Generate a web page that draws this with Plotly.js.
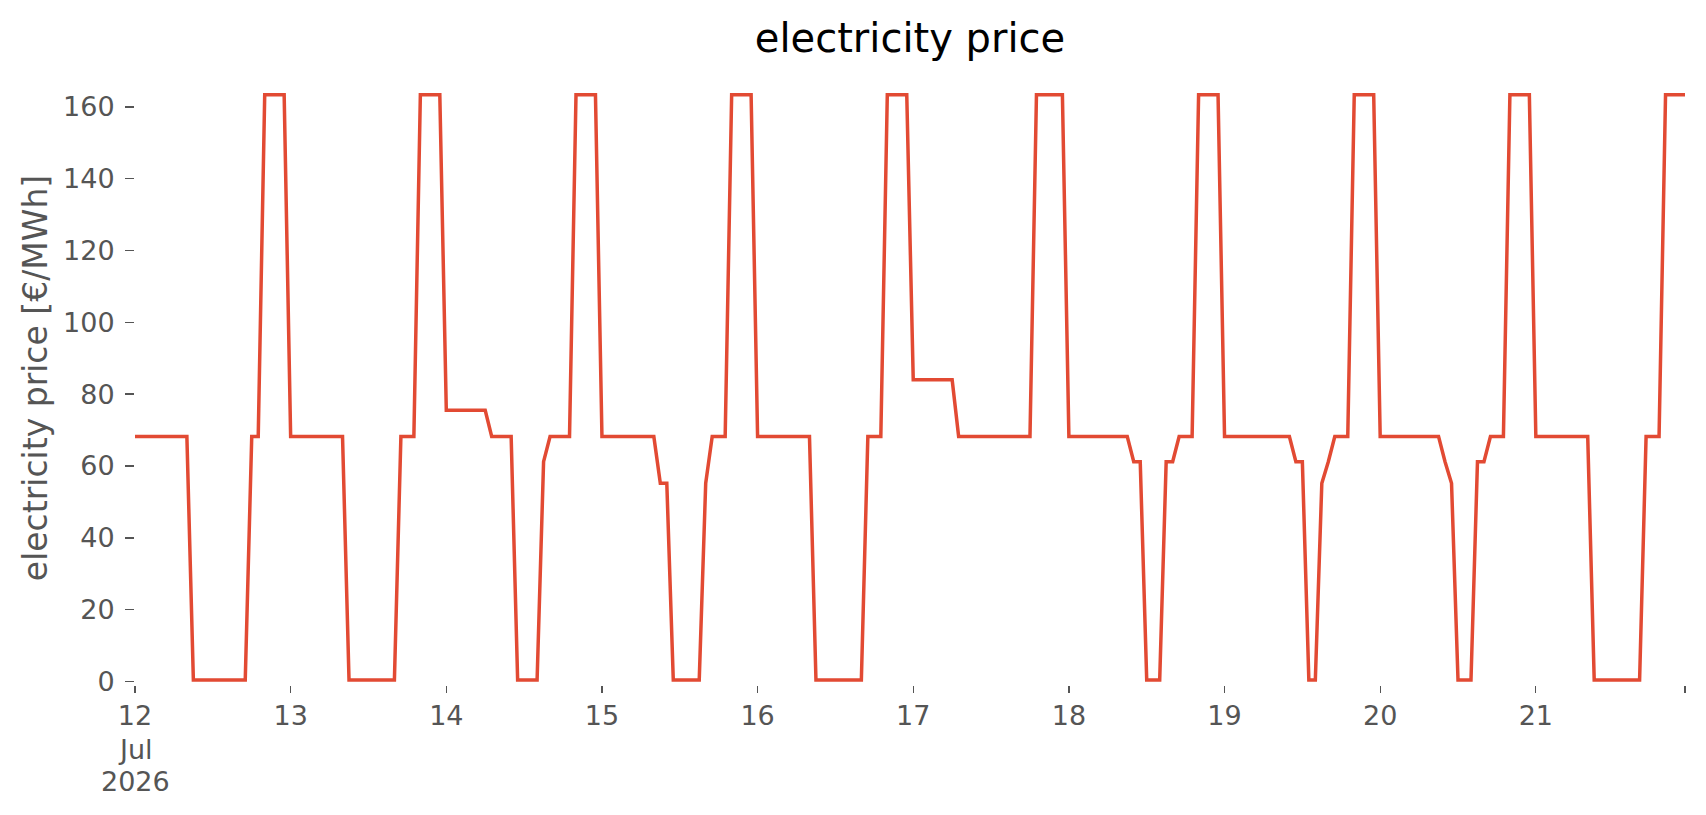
<!DOCTYPE html>
<html>
<head>
<meta charset="utf-8">
<script src="https://cdn.plot.ly/plotly-3.0.1.min.js"></script>
<style>html,body{margin:0;padding:0;background:#fff;}#chart{width:1706px;height:815px;}</style>
</head>
<body>
<div id="chart"></div>
<script>
// hourly electricity price [€/MWh], one array per day (hours 0..23)
const day12 = [68.2,68.2,68.2,68.2,68.2,68.2,68.2,68.2,68.2, 0.4,0.4,0.4,0.4,0.4,0.4,0.4,0.4,0.4, 68.2,68.2, 163.4,163.4,163.4,163.4];
const day13 = [68.2,68.2,68.2,68.2,68.2,68.2,68.2,68.2,68.2, 0.4,0.4,0.4,0.4,0.4,0.4,0.4,0.4, 68.2,68.2,68.2, 163.4,163.4,163.4,163.4];
const day14 = [75.5,75.5,75.5,75.5,75.5,75.5,75.5, 68.2,68.2,68.2,68.2, 0.4,0.4,0.4,0.4, 61.2, 68.2,68.2,68.2,68.2, 163.4,163.4,163.4,163.4];
const day15 = [68.2,68.2,68.2,68.2,68.2,68.2,68.2,68.2,68.2, 55.2,55.2, 0.4,0.4,0.4,0.4,0.4, 55.2, 68.2,68.2,68.2, 163.4,163.4,163.4,163.4];
const day16 = [68.2,68.2,68.2,68.2,68.2,68.2,68.2,68.2,68.2, 0.4,0.4,0.4,0.4,0.4,0.4,0.4,0.4, 68.2,68.2,68.2, 163.4,163.4,163.4,163.4];
const day17 = [84.0,84.0,84.0,84.0,84.0,84.0,84.0, 68.2,68.2,68.2,68.2,68.2,68.2,68.2,68.2,68.2,68.2,68.2,68.2, 163.4,163.4,163.4,163.4,163.4];
const day18 = [68.2,68.2,68.2,68.2,68.2,68.2,68.2,68.2,68.2,68.2, 61.2,61.2, 0.4,0.4,0.4, 61.2,61.2, 68.2,68.2,68.2, 163.4,163.4,163.4,163.4];
const day19 = [68.2,68.2,68.2,68.2,68.2,68.2,68.2,68.2,68.2,68.2,68.2, 61.2,61.2, 0.4,0.4, 55.2, 61.2, 68.2,68.2,68.2, 163.4,163.4,163.4,163.4];
const day20 = [68.2,68.2,68.2,68.2,68.2,68.2,68.2,68.2,68.2,68.2, 61.2, 55.2, 0.4,0.4,0.4, 61.2,61.2, 68.2,68.2,68.2, 163.4,163.4,163.4,163.4];
const day21 = [68.2,68.2,68.2,68.2,68.2,68.2,68.2,68.2,68.2, 0.4,0.4,0.4,0.4,0.4,0.4,0.4,0.4, 68.2,68.2,68.2, 163.4,163.4,163.4,163.4];

const dayDates = ['2026-07-12','2026-07-13','2026-07-14','2026-07-15','2026-07-16','2026-07-17','2026-07-18','2026-07-19','2026-07-20','2026-07-21'];
const dayValues = [day12,day13,day14,day15,day16,day17,day18,day19,day20,day21];

const tickVals = ['2026-07-12','2026-07-13','2026-07-14','2026-07-15','2026-07-16','2026-07-17','2026-07-18','2026-07-19','2026-07-20','2026-07-21','2026-07-21 23:00'];
const tickText = ['12','13','14','15','16','17','18','19','20','21',''];
const firstTickSubLabels = ['Jul', '2026'];

const yTicks = [0,20,40,60,80,100,120,140,160];

// build timestamps (hourly) from the day list
const x = [], y = [];
dayDates.forEach((d, i) => {
  dayValues[i].forEach((v, h) => {
    x.push(d + ' ' + String(h).padStart(2,'0') + ':00');
    y.push(v);
  });
});

const font = 'DejaVu Sans, Liberation Sans, sans-serif';
const data = [{
  x: x, y: y, type: 'scatter', mode: 'lines',
  line: {color: '#E24A33', width: 3.5},
  hoverinfo: 'skip'
}];

const subShifts = [-64, -96];
const annotations = firstTickSubLabels.map((t, i) => ({
  text: t, xref: 'x', yref: 'paper', x: tickVals[0], y: 0,
  xanchor: 'center', yanchor: 'middle', yshift: subShifts[i],
  showarrow: false, font: {family: font, size: 27, color: '#555555'}
}));

const layout = {
  width: 1706, height: 815,
  paper_bgcolor: '#ffffff', plot_bgcolor: '#ffffff',
  margin: {l: 135, r: 21, t: 71, b: 130, pad: 0},
  showlegend: false,
  font: {family: font, color: '#555555', size: 27},
  title: {
    text: 'electricity price',
    font: {family: font, size: 40, color: '#000000'},
    x: 0.5, xref: 'paper', xanchor: 'center',
    y: 1 - 38/815, yref: 'container', yanchor: 'middle'
  },
  annotations: annotations,
  xaxis: {
    type: 'date',
    range: ['2026-07-12 00:00', '2026-07-21 23:00'],
    tickmode: 'array', tickvals: tickVals, ticktext: tickText,
    ticks: 'outside', ticklen: 7, tickwidth: 1.3, tickcolor: '#555555',
    tickfont: {family: font, size: 27, color: '#555555'},
    showgrid: false, zeroline: false, showline: false,
    ticklabelstandoff: 0
  },
  yaxis: {
    range: [-1, 170],
    tickmode: 'array', tickvals: yTicks, ticktext: yTicks.map(String),
    ticks: 'outside', ticklen: 9, tickwidth: 1.5, tickcolor: '#555555',
    tickfont: {family: font, size: 27, color: '#555555'},
    showgrid: false, zeroline: false, showline: false,
    ticklabelstandoff: 5,
    title: {text: 'electricity price [€/MWh]', font: {family: font, size: 33, color: '#555555'}, standoff: 5}
  }
};

Plotly.newPlot('chart', data, layout, {displayModeBar: false, staticPlot: true});
</script>
</body>
</html>
